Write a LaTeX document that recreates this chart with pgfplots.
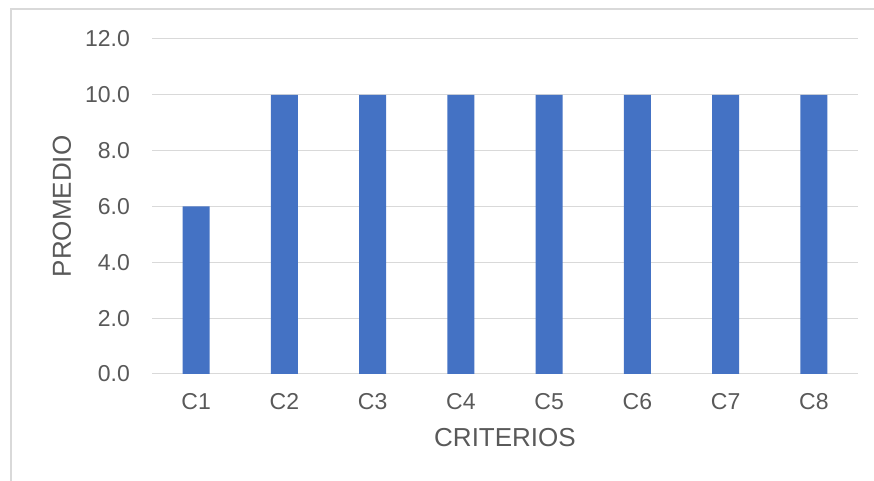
\documentclass[border=0pt]{standalone}
\usepackage{fontspec}
\setmainfont{Liberation Sans}
\usepackage{pgfplots}
\pgfplotsset{compat=1.18}
\definecolor{barblue}{HTML}{4472C4}
\definecolor{gridgray}{HTML}{D9D9D9}
\definecolor{txtgray}{HTML}{595959}
\begin{document}
\begin{tikzpicture}
\path[use as bounding box] (0,0) rectangle (874pt,481pt);
\draw[gridgray, line width=1.5pt] (11pt,-5pt) -- (11pt,472pt) -- (880pt,472pt);
\begin{axis}[
  at={(152pt,107pt)}, anchor=south west,
  scale only axis, width=706pt, height=335pt,
  xmin=-0.5, xmax=7.5, ymin=0, ymax=12,
  ybar, bar width=27pt,
  axis line style={draw=none},
  major tick length=0pt,
  xtick=data,
  xticklabels={C1,C2,C3,C4,C5,C6,C7,C8},
  ytick={0,2,4,6,8,10,12},
  ymajorgrids,
  grid style={gridgray, line width=1pt},
  /pgf/number format/assume math mode=true,
  yticklabel style={/pgf/number format/.cd, fixed, fixed zerofill, precision=1, /tikz/.cd, anchor=east, inner sep=0pt, xshift=-22pt},
  xticklabel style={anchor=north, inner sep=0pt, yshift=-19pt},
  tick label style={font=\fontsize{23}{27}\selectfont, text=txtgray},
  label style={font=\fontsize{26}{30}\selectfont, text=txtgray},
  xlabel={CRITERIOS},
  ylabel={PROMEDIO},
  xlabel style={at={(axis description cs:0.5,-0.191)}, anchor=center},
  ylabel style={at={(axis description cs:-0.1275,0.5)}, anchor=center},
  clip=false,
]
\addplot[fill=barblue, draw=none] coordinates {(0,6) (1,10) (2,10) (3,10) (4,10) (5,10) (6,10) (7,10)};
\end{axis}
\end{tikzpicture}
\end{document}
